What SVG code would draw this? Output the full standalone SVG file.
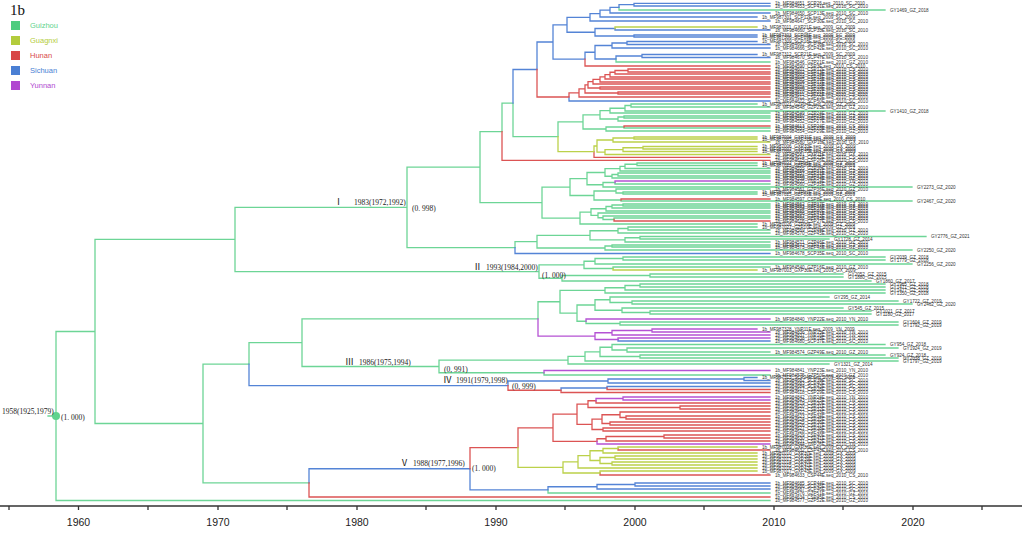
<svg xmlns="http://www.w3.org/2000/svg" width="1024" height="536" viewBox="0 0 1024 536">
<style>
.br{fill:none;stroke-width:1.3;stroke-linecap:square}
.g{stroke:#6dd596}.y{stroke:#bcd14a}.r{stroke:#dc5454}.b{stroke:#5484d6}.p{stroke:#b552d4}
.t{font-family:"Liberation Sans",Arial,sans-serif;font-size:4.6px;fill:#333}
.n{font-family:"Liberation Serif","Times New Roman",serif;font-size:7.5px;fill:#222}
.rn{font-family:"Liberation Serif","Noto Sans CJK SC",serif;font-size:9px;fill:#222}
.lg{font-family:"Liberation Sans",Arial,sans-serif;font-size:7.5px}
.ax{font-family:"Liberation Sans",Arial,sans-serif;font-size:10.5px;fill:#222;text-anchor:middle}
</style>
<rect width="1024" height="536" fill="#fff"/>
<g id="legend">
<text x="10" y="15" font-family="Liberation Serif,serif" font-size="15" fill="#111">1b</text>
<rect x="11" y="21" width="9" height="9" fill="#4fcc7f"/><text class="lg" x="30" y="28" fill="#5fd38d">Guizhou</text>
<rect x="11" y="36" width="9" height="9" fill="#b3cc3c"/><text class="lg" x="30" y="43" fill="#b3cc3c">Guagnxi</text>
<rect x="11" y="51" width="9" height="9" fill="#d84848"/><text class="lg" x="30" y="58" fill="#d84848">Hunan</text>
<rect x="11" y="66" width="9" height="9" fill="#4a7fd4"/><text class="lg" x="30" y="73" fill="#4a7fd4">Sichuan</text>
<rect x="11" y="81" width="9" height="9" fill="#b048d0"/><text class="lg" x="30" y="88" fill="#b048d0">Yunnan</text>
</g>
<g id="connectors">
<path class="br g" d="M48 416H56M56 416V331.5H95M56 416V500.5H770M95 331.5V239.45H235M95 331.5V423.5H203M235 239.45V207.3H407M235 239.45V271.6H539M407 207.3V167.05H480M407 207.3V247.6H515M480 167.05V131.55H502M480 167.05V202.55H542M502 131.55V103.1H513M513 103.1V136.7H558M619 7.3V10H885M616 59V62H770M558 136.7V121.9H583M583 121.9V114.8H600M583 121.9V129H606M600 114.8V110.6H610M600 114.8V119H618M610 110.6V108.25H625M610 110.6V113H770M625 108.25V105.5H631M625 108.25V111H885M631 105.5V104H757M631 105.5V107H770M618 119V117H624M618 119V121H770M624 117V116H770M624 117V118H770M606 129V127H624M606 129V131H770M624 127V128H770
M542 202.55V187.05H570M542 202.55V218.05H580M570 187.05V178.6H587M570 187.05V195.5H594M587 178.6V172.5H605M587 178.6V184.75H603M605 172.5V168.7H620M605 172.5V176.25H612M620 168.7V166.4H625M620 168.7V171H770M625 166.4V164.25H637M625 166.4V168.5H770M637 164.25V163H757M637 164.25V165.5H757M612 176.25V174.5H618M612 176.25V178H770M618 174.5V173H770M618 174.5V176H770M603 184.75V182.5H615M603 184.75V187H912M615 182.5V184H770M594 195.5V191H616M594 195.5V200H621M616 191V189H770M616 191V193H623M623 193V192H757M623 193V194H757M621 200V201H912M580 218.05V212.1H591M580 218.05V224H757M591 212.1V208.75H606M591 212.1V215.4H598M606 208.75V206.5H612M606 208.75V211H770M612 206.5V205H623M612 206.5V208H770M623 205V204H770M623 205V206H770M598 215.4V213H770M598 215.4V217.75H603M603 217.75V216H770M603 217.75V219.5H614M614 219.5V218H770
M515 247.6V241.65H537M537 241.65V235.3H590M537 241.65V248H605M590 235.3V230.75H618M590 235.3V239.9H625M618 230.75V228.5H628M618 230.75V233H770M628 228.5V227H757M628 228.5V230H770M625 239.9V237.75H640M625 239.9V242H770M640 237.75V236.5H926M640 237.75V239H829M605 248V246H612M605 248V250H912M612 246V245H770M612 246V247H770
M539 271.6V264.9H584M539 271.6V278.25H562M584 264.9V261.25H595M584 264.9V268.5H613M595 261.25V258.5H623M595 261.25V264H912M623 258.5V257H885M623 258.5V260H885M613 268.5V267H770M562 278.25V275.5H650M562 278.25V281H871M650 275.5V274H843M650 275.5V277H843
M302 342.7V318.9H538M302 342.7V366.5H439M538 318.9V301.75H560M560 301.75V290.4H605M560 301.75V313.1H577M605 290.4V287.75H625M605 290.4V293H885M625 287.75V285.5H640M625 287.75V290H885M640 285.5V284H885M640 285.5V287H885M577 313.1V305H595M577 313.1V321.25H586M595 305V299.75H610M595 305V310.25H622M610 299.75V297H829M610 299.75V302.5H632M632 302.5V301H898M632 302.5V304H912M622 310.25V308H843M622 310.25V312.5H650M650 312.5V311H871M650 312.5V314H871M586 321.25V323.5H620M620 323.5V322H898M620 323.5V325H898
M439 366.5V360.2H568M439 366.5V372.75H544M568 360.2V356.45H585M568 360.2V364H829M585 356.45V351.9H600M585 356.45V361H898M600 351.9V347.25H612M600 351.9V356.5H640M612 347.25V344.5H885M612 347.25V350H627M627 350V348H898M627 350V352H770M640 356.5V355H885M640 356.5V358H898M544 372.75V375H770
M249 364.15V342.7H302M203 423.5V364.15H249M203 423.5V482.9H309M548 489.9V493H770"/>
<path class="br b" d="M513 103.1V69.5H537M537 69.5V42H553M553 42V24.8H567M553 42V59.1H585M567 24.8V17.3H590M567 24.8V32.25H595M590 17.3V13.6H600M590 17.3V21H770M600 13.6V10.15H610M600 13.6V17H757M610 10.15V7.3H619M610 10.15V13H770M619 7.3V4.65H634M634 4.65V3.3H770M634 4.65V6H770M595 32.25V28.5H615M595 32.25V36H634M615 28.5V30H770M634 36V35H757M634 36V37H757M585 59.1V52.25H595M595 52.25V45.5H612M595 52.25V59H616M612 45.5V43H627M612 45.5V48H770M627 43V41.5H757M627 43V44.5H770M616 59V56H642M642 56V54.5H757M642 56V57.5H770M569 97V101H770
M515 247.6V253.5H770M618 339.5V341H770
M249 364.15V385.6H508M508 385.6V381H608M608 381V379H744M608 381V383H770M744 379V377.5H757M744 379V380.5H770M561 390.25V388H607M607 388V386.5H770
M309 482.9V468.75H470M470 468.75V489.9H548M548 489.9V486.75H597M597 486.75V484.5H635M597 486.75V489H770M635 484.5V483H770M635 484.5V486H770"/>
<path class="br r" d="M502 131.55V160.3H770M585 59.1V66H770M537 69.5V97H569M569 97V92.95H579M579 92.95V88.9H585M579 92.95V97H770M585 88.9V84.85H588M585 88.9V93H618M618 93V92H770M618 93V94H770M588 84.85V81.7H593M588 84.85V88H600M600 88V87H770M600 88V89H770M593 81.7V79.4H600M593 81.7V84H770M600 79.4V76.8H605M600 79.4V82H770M605 76.8V74.6H610M605 76.8V79H770M610 74.6V72.25H615M610 74.6V77H770M615 72.25V70.5H628M615 72.25V74H770M628 70.5V69H770M628 70.5V72H770
M624 127V126H770M594 151.65V157.3H770M621 200V199H770M614 219.5V221H770
M508 385.6V390.25H561M561 390.25V392.5H770M607 388V389.5H770
M309 482.9V497H770M470 468.75V447.6H518M518 447.6V427.8H553M553 427.8V414.2H577M553 427.8V441.4H597M577 414.2V404.1H588M577 414.2V424.3H592M588 404.1V400.75H596M588 404.1V407.5H680M596 400.75V403H770M680 407.5V406H770M680 407.5V409H770M592 424.3V419.1H602M592 424.3V429.5H603M602 419.1V414.75H620M602 419.1V423.5H610M620 414.75V412H770M620 414.75V417.5H626M626 417.5V416H770M626 417.5V419H770M610 423.5V422H770M610 423.5V425H770M603 429.5V428H770M603 429.5V431H770M597 441.4V438.75H606M606 438.75V436.5H664M606 438.75V441H770M664 436.5V435H770M664 436.5V438H770M618 448.5V450H770M600 473V475H770"/>
<path class="br y" d="M615 28.5V27H757M558 136.7V151.65H594M594 151.65V146H597M597 146V140H613M597 146V152.05H605M613 140V138H634M613 140V142H770M634 138V137H757M634 138V139H757M605 152.05V149.6H623M605 152.05V154.5H770M623 149.6V147.75H643M623 149.6V151.5H757M643 147.75V146.5H757M643 147.75V149H757
M613 268.5V270H757
M518 447.6V467.4H563M563 467.4V461.8H578M563 467.4V473H600M578 461.8V455.6H590M578 461.8V468H757M590 455.6V450.75H603M590 455.6V460.5H600M603 450.75V448.5H618M603 450.75V453H757M618 448.5V447H757M600 460.5V457.5H615M600 460.5V463.5H612M615 457.5V456H757M615 457.5V459H757M612 463.5V462H757M612 463.5V465H757M600 473V471H757"/>
<path class="br p" d="M615 182.5V181H770M538 318.9V336.1H595M595 336.1V332.75H612M595 336.1V339.5H618M612 332.75V330.5H652M612 332.75V335H770M652 330.5V329H757M652 330.5V332H770M618 339.5V338H770M586 321.25V319H770M544 372.75V370.5H770M596 400.75V398.5H623M623 398.5V397H770M623 398.5V400H770M597 441.4V444H770"/>
</g>
<g id="root-node"><circle cx="56" cy="416" r="4" fill="#5fd38d"/>
<text class="n" x="2" y="414">1958(1925,1979)</text><text class="n" x="61" y="420">(1. 000)</text></g>
<g id="clade-I"><text class="rn" x="334" y="204.5">Ⅰ</text><text class="n" x="354" y="204.5">1983(1972,1992)</text><text class="n" x="412" y="211">(0. 998)</text></g>
<g id="clade-II"><text class="rn" x="473" y="269.5">Ⅱ</text><text class="n" x="486" y="269.5">1993(1984,2000)</text><text class="n" x="542" y="278">(1. 000)</text></g>
<g id="clade-III"><text class="rn" x="345" y="365">Ⅲ</text><text class="n" x="359" y="365">1986(1975,1994)</text><text class="n" x="444" y="371.5">(0, 991)</text></g>
<g id="clade-IV"><text class="rn" x="443" y="383">Ⅳ</text><text class="n" x="456" y="383">1991(1979,1998)</text><text class="n" x="512" y="389">(0, 999)</text></g>
<g id="clade-V"><text class="rn" x="400" y="466">Ⅴ</text><text class="n" x="413" y="466">1988(1977,1996)</text><text class="n" x="472" y="471">(1. 000)</text></g>
<g id="tips">
<text class="t" x="775" y="5.1">1b_MF984651_SCP26.seq_2010_SC_2010</text>
<text class="t" x="775" y="7.8">1b_MF984653_SCP41E.seq_2010_SC_2010</text>
<text class="t" x="890" y="11.8">GY1469_GZ_2018</text>
<text class="t" x="775" y="14.8">1b_MF984650_SCP13E.seq_2010_SC_2010</text>
<text class="t" x="762" y="18.8">1b_MF987301_SCP12E.seq_2009_SC_2009</text>
<text class="t" x="775" y="22.8">1b_MF984647_SCP30E.seq_2010_SC_2010</text>
<text class="t" x="762" y="28.8">1b_MF987011_GXP21E.seq_2009_GX_2009</text>
<text class="t" x="775" y="31.8">1b_MF984660_SCP33E.seq_2010_SC_2010</text>
<text class="t" x="762" y="36.8">1b_MF987303_SCP05E.seq_2009_SC_2009</text>
<text class="t" x="762" y="38.8">1b_MF987306_SCP09E.seq_2009_SC_2009</text>
<text class="t" x="762" y="43.3">1b_MF987309_SCP18E.seq_2009_SC_2009</text>
<text class="t" x="775" y="46.3">1b_MF984662_SCP36E.seq_2010_SC_2010</text>
<text class="t" x="775" y="49.8">1b_MF984666_SCP42E.seq_2010_SC_2010</text>
<text class="t" x="762" y="56.3">1b_MF987312_SCP21E.seq_2009_SC_2009</text>
<text class="t" x="775" y="59.3">1b_MF984670_SCP47E.seq_2010_SC_2010</text>
<text class="t" x="775" y="63.8">1b_MF984546_GZP21E.seq_2010_GZ_2010</text>
<text class="t" x="775" y="67.8">1b_MF984590_CSP3E.seq_2010_CS_2010</text>
<text class="t" x="775" y="70.8">1b_MF984601_CSP12E.seq_2010_CS_2010</text>
<text class="t" x="775" y="73.8">1b_MF984602_CSP13E.seq_2010_CS_2010</text>
<text class="t" x="775" y="75.8">1b_MF984603_CSP14E.seq_2010_CS_2010</text>
<text class="t" x="775" y="78.8">1b_MF984604_CSP15E.seq_2010_CS_2010</text>
<text class="t" x="775" y="80.8">1b_MF984605_CSP16E.seq_2010_CS_2010</text>
<text class="t" x="775" y="83.8">1b_MF984606_CSP17E.seq_2010_CS_2010</text>
<text class="t" x="775" y="85.8">1b_MF984607_CSP18E.seq_2010_CS_2010</text>
<text class="t" x="775" y="88.8">1b_MF984608_CSP19E.seq_2010_CS_2010</text>
<text class="t" x="775" y="90.8">1b_MF984609_CSP20E.seq_2010_CS_2010</text>
<text class="t" x="775" y="93.8">1b_MF984610_CSP21E.seq_2010_CS_2010</text>
<text class="t" x="775" y="95.8">1b_MF984611_CSP22E.seq_2010_CS_2010</text>
<text class="t" x="775" y="98.8">1b_MF984612_CSP23E.seq_2010_CS_2010</text>
<text class="t" x="775" y="102.8">1b_MF984672_SCP50E.seq_2010_SC_2010</text>
<text class="t" x="762" y="105.8">1b_MF987021_GZP04E.seq_2009_GZ_2009</text>
<text class="t" x="775" y="108.8">1b_MF984548_GZP23E.seq_2010_GZ_2010</text>
<text class="t" x="890" y="112.8">GY1410_GZ_2018</text>
<text class="t" x="775" y="114.8">1b_MF984549_GZP24E.seq_2010_GZ_2010</text>
<text class="t" x="775" y="117.8">1b_MF984550_GZP25E.seq_2010_GZ_2010</text>
<text class="t" x="775" y="119.8">1b_MF984551_GZP26E.seq_2010_GZ_2010</text>
<text class="t" x="775" y="122.8">1b_MF984552_GZP27E.seq_2010_GZ_2010</text>
<text class="t" x="775" y="127.8">1b_MF984613_CSP24E.seq_2010_CS_2010</text>
<text class="t" x="775" y="129.8">1b_MF984553_GZP28E.seq_2010_GZ_2010</text>
<text class="t" x="775" y="132.8">1b_MF984554_GZP29E.seq_2010_GZ_2010</text>
<text class="t" x="762" y="138.8">1b_MF987004_GXP31E.seq_2009_GX_2009</text>
<text class="t" x="762" y="140.8">1b_MF987005_GXP32E.seq_2009_GX_2009</text>
<text class="t" x="775" y="143.8">1b_MF984580_GXP10E.seq_2010_GX_2010</text>
<text class="t" x="762" y="148.3">1b_MF987006_GXP33E.seq_2009_GX_2009</text>
<text class="t" x="762" y="150.8">1b_MF987007_GXP34E.seq_2009_GX_2009</text>
<text class="t" x="762" y="153.3">1b_MF987008_GXP35E.seq_2009_GX_2009</text>
<text class="t" x="775" y="156.3">1b_MF984581_GXP11E.seq_2010_GX_2010</text>
<text class="t" x="775" y="159.1">1b_MF984614_CSP25E.seq_2010_CS_2010</text>
<text class="t" x="775" y="162.1">1b_MF984615_CSP26E.seq_2010_CS_2010</text>
<text class="t" x="762" y="164.8">1b_MF987022_GZP05E.seq_2009_GZ_2009</text>
<text class="t" x="762" y="167.3">1b_MF987023_GZP06E.seq_2009_GZ_2009</text>
<text class="t" x="775" y="170.3">1b_MF984555_GZP30E.seq_2010_GZ_2010</text>
<text class="t" x="775" y="172.8">1b_MF984556_GZP31E.seq_2010_GZ_2010</text>
<text class="t" x="775" y="174.8">1b_MF984557_GZP32E.seq_2010_GZ_2010</text>
<text class="t" x="775" y="177.8">1b_MF984558_GZP33E.seq_2010_GZ_2010</text>
<text class="t" x="775" y="179.8">1b_MF984559_GZP34E.seq_2010_GZ_2010</text>
<text class="t" x="775" y="182.8">1b_MF984835_YNP14E.seq_2010_YN_2010</text>
<text class="t" x="775" y="185.8">1b_MF984560_GZP35E.seq_2010_GZ_2010</text>
<text class="t" x="917" y="188.8">GY2273_GZ_2020</text>
<text class="t" x="775" y="190.8">1b_MF984561_GZP36E.seq_2010_GZ_2010</text>
<text class="t" x="762" y="193.8">1b_MF987024_GZP07E.seq_2009_GZ_2009</text>
<text class="t" x="762" y="195.8">1b_MF987025_GZP08E.seq_2009_GZ_2009</text>
<text class="t" x="775" y="200.8">1b_MF984597_CSP8E.seq_2010_CS_2010</text>
<text class="t" x="917" y="202.8">GY2467_GZ_2020</text>
<text class="t" x="775" y="205.8">1b_MF984562_GZP37E.seq_2010_GZ_2010</text>
<text class="t" x="775" y="207.8">1b_MF984563_GZP38E.seq_2010_GZ_2010</text>
<text class="t" x="775" y="209.8">1b_MF984564_GZP39E.seq_2010_GZ_2010</text>
<text class="t" x="775" y="212.8">1b_MF984565_GZP40E.seq_2010_GZ_2010</text>
<text class="t" x="775" y="214.8">1b_MF984566_GZP41E.seq_2010_GZ_2010</text>
<text class="t" x="775" y="217.8">1b_MF984567_GZP42E.seq_2010_GZ_2010</text>
<text class="t" x="775" y="219.8">1b_MF984568_GZP43E.seq_2010_GZ_2010</text>
<text class="t" x="775" y="222.8">1b_MF984616_CSP27E.seq_2010_CS_2010</text>
<text class="t" x="762" y="225.8">1b_MF987026_GZP09E.seq_2009_GZ_2009</text>
<text class="t" x="762" y="228.8">1b_MF987027_GZP10E.seq_2009_GZ_2009</text>
<text class="t" x="775" y="231.8">1b_MF984569_GZP44E.seq_2010_GZ_2010</text>
<text class="t" x="775" y="234.8">1b_MF984570_GZP45E.seq_2010_GZ_2010</text>
<text class="t" x="931" y="238.3">GY2776_GZ_2021</text>
<text class="t" x="834" y="240.8">GY1728_GZ_2014</text>
<text class="t" x="775" y="243.8">1b_MF984571_GZP46E.seq_2010_GZ_2010</text>
<text class="t" x="775" y="246.8">1b_MF984572_GZP47E.seq_2010_GZ_2010</text>
<text class="t" x="775" y="248.8">1b_MF984573_GZP48E.seq_2010_GZ_2010</text>
<text class="t" x="917" y="251.8">GY2250_GZ_2020</text>
<text class="t" x="775" y="255.3">1b_MF984678_SCP35E.seq_2010_SC_2010</text>
<text class="t" x="890" y="258.8">GY2039_GZ_2018</text>
<text class="t" x="890" y="261.8">GY1779_GZ_2018</text>
<text class="t" x="917" y="265.8">GY2256_GZ_2020</text>
<text class="t" x="775" y="268.8">1b_MF984540_GZP16E.seq_2010_GZ_2010</text>
<text class="t" x="762" y="271.8">1b_MF987003_GXP30E.seq_2009_GX_2009</text>
<text class="t" x="848" y="275.8">GY2052_GZ_2015</text>
<text class="t" x="848" y="278.8">GY1880_GZ_2015</text>
<text class="t" x="876" y="282.8">GY1860_GZ_2017</text>
<text class="t" x="890" y="285.8">GY1965_GZ_2018</text>
<text class="t" x="890" y="288.8">GY1471_GZ_2018</text>
<text class="t" x="890" y="291.8">GY1477_GZ_2018</text>
<text class="t" x="890" y="294.8">GY1350_GZ_2018</text>
<text class="t" x="834" y="298.8">GY295_GZ_2014</text>
<text class="t" x="903" y="302.8">GY1722_GZ_2019</text>
<text class="t" x="917" y="305.8">GY2462_GZ_2020</text>
<text class="t" x="848" y="309.8">GY545_GZ_2015</text>
<text class="t" x="876" y="312.8">GY1021_GZ_2017</text>
<text class="t" x="876" y="315.8">GY1180_GZ_2017</text>
<text class="t" x="775" y="320.8">1b_MF984840_YNP22E.seq_2010_YN_2010</text>
<text class="t" x="903" y="323.8">GY1604_GZ_2019</text>
<text class="t" x="903" y="326.8">GY1792_GZ_2019</text>
<text class="t" x="762" y="330.8">1b_MF987328_YNP11E.seq_2009_YN_2009</text>
<text class="t" x="775" y="333.8">1b_MF984836_YNP15E.seq_2010_YN_2010</text>
<text class="t" x="775" y="336.8">1b_MF984837_YNP16E.seq_2010_YN_2010</text>
<text class="t" x="775" y="339.8">1b_MF984838_YNP18E.seq_2010_YN_2010</text>
<text class="t" x="775" y="342.8">1b_MF984680_SCP37E.seq_2010_SC_2010</text>
<text class="t" x="890" y="346.3">GY954_GZ_2018</text>
<text class="t" x="903" y="349.8">GY1924_GZ_2019</text>
<text class="t" x="775" y="353.8">1b_MF984574_GZP49E.seq_2010_GZ_2010</text>
<text class="t" x="890" y="356.8">GY924_GZ_2018</text>
<text class="t" x="903" y="359.8">GY2038_GZ_2019</text>
<text class="t" x="903" y="362.8">GY1797_GZ_2019</text>
<text class="t" x="834" y="365.8">GY1321_GZ_2014</text>
<text class="t" x="775" y="372.3">1b_MF984841_YNP23E.seq_2010_YN_2010</text>
<text class="t" x="775" y="376.8">1b_MF984575_GZP50E.seq_2010_GZ_2010</text>
<text class="t" x="762" y="379.3">1b_MF987315_SCP24E.seq_2009_SC_2009</text>
<text class="t" x="775" y="382.3">1b_MF984682_SCP39E.seq_2010_SC_2010</text>
<text class="t" x="775" y="384.8">1b_MF984683_SCP40E.seq_2010_SC_2010</text>
<text class="t" x="775" y="388.3">1b_MF984684_SCP43E.seq_2010_SC_2010</text>
<text class="t" x="775" y="391.3">1b_MF984617_CSP28E.seq_2010_CS_2010</text>
<text class="t" x="775" y="394.3">1b_MF984618_CSP29E.seq_2010_CS_2010</text>
<text class="t" x="775" y="398.8">1b_MF984842_YNP24E.seq_2010_YN_2010</text>
<text class="t" x="775" y="401.8">1b_MF984843_YNP25E.seq_2010_YN_2010</text>
<text class="t" x="775" y="404.8">1b_MF984619_CSP30E.seq_2010_CS_2010</text>
<text class="t" x="775" y="407.8">1b_MF984620_CSP31E.seq_2010_CS_2010</text>
<text class="t" x="775" y="410.8">1b_MF984621_CSP32E.seq_2010_CS_2010</text>
<text class="t" x="775" y="413.8">1b_MF984622_CSP33E.seq_2010_CS_2010</text>
<text class="t" x="775" y="417.8">1b_MF984623_CSP34E.seq_2010_CS_2010</text>
<text class="t" x="775" y="420.8">1b_MF984624_CSP35E.seq_2010_CS_2010</text>
<text class="t" x="775" y="423.8">1b_MF984625_CSP36E.seq_2010_CS_2010</text>
<text class="t" x="775" y="426.8">1b_MF984626_CSP37E.seq_2010_CS_2010</text>
<text class="t" x="775" y="429.8">1b_MF984627_CSP38E.seq_2010_CS_2010</text>
<text class="t" x="775" y="432.8">1b_MF984628_CSP39E.seq_2010_CS_2010</text>
<text class="t" x="775" y="436.8">1b_MF984629_CSP40E.seq_2010_CS_2010</text>
<text class="t" x="775" y="439.8">1b_MF984630_CSP41E.seq_2010_CS_2010</text>
<text class="t" x="775" y="442.8">1b_MF984631_CSP42E.seq_2010_CS_2010</text>
<text class="t" x="775" y="445.8">1b_MF984844_YNP26E.seq_2010_YN_2010</text>
<text class="t" x="762" y="448.8">1b_MF987009_GXP36E.seq_2009_GX_2009</text>
<text class="t" x="775" y="451.8">1b_MF984632_CSP43E.seq_2010_CS_2010</text>
<text class="t" x="762" y="454.8">1b_MF987010_GXP37E.seq_2009_GX_2009</text>
<text class="t" x="762" y="457.8">1b_MF987012_GXP38E.seq_2009_GX_2009</text>
<text class="t" x="762" y="460.8">1b_MF987013_GXP39E.seq_2009_GX_2009</text>
<text class="t" x="762" y="463.8">1b_MF987014_GXP40E.seq_2009_GX_2009</text>
<text class="t" x="762" y="466.8">1b_MF987015_GXP41E.seq_2009_GX_2009</text>
<text class="t" x="762" y="469.8">1b_MF987016_GXP42E.seq_2009_GX_2009</text>
<text class="t" x="762" y="472.8">1b_MF987017_GXP43E.seq_2009_GX_2009</text>
<text class="t" x="775" y="476.8">1b_MF984633_CSP44E.seq_2010_CS_2010</text>
<text class="t" x="775" y="484.8">1b_MF984685_SCP44E.seq_2010_SC_2010</text>
<text class="t" x="775" y="487.8">1b_MF984686_SCP45E.seq_2010_SC_2010</text>
<text class="t" x="775" y="490.8">1b_MF984687_SCP46E.seq_2010_SC_2010</text>
<text class="t" x="775" y="494.8">1b_MF984576_GZP51E.seq_2010_GZ_2010</text>
<text class="t" x="775" y="498.8">1b_MF984634_CSP45E.seq_2010_CS_2010</text>
<text class="t" x="775" y="502.3">1b_MF984577_GZP52E.seq_2010_GZ_2010</text>
</g>
<g id="axis" stroke="#333" stroke-width="1.3">
<path d="M0 506H1022M9 506V510M78.5 506V510M148 506V510M218 506V510M287 506V510M357 506V510M426 506V510M496 506V510M565 506V510M635 506V510M704 506V510M774 506V510M843 506V510M913 506V510M982 506V510"/>
</g>
<g id="axis-labels">
<text class="ax" x="78.5" y="526">1960</text><text class="ax" x="218" y="526">1970</text><text class="ax" x="357" y="526">1980</text><text class="ax" x="496" y="526">1990</text><text class="ax" x="635" y="526">2000</text><text class="ax" x="774" y="526">2010</text><text class="ax" x="913" y="526">2020</text>
</g>
</svg>
